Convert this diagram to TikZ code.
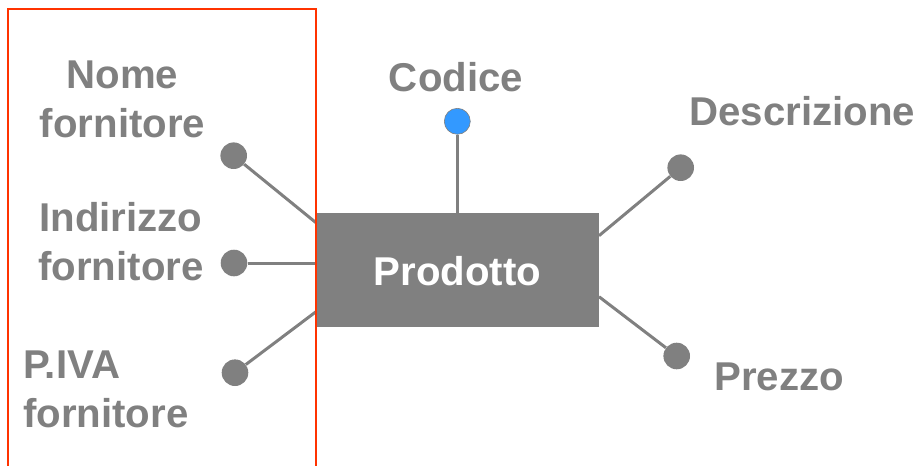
\documentclass[tikz,border=0pt]{standalone}
\usepackage{fontspec}
\setmainfont{Liberation Sans}
\definecolor{grayc}{HTML}{808080}
\definecolor{bluec}{HTML}{3399FF}
\definecolor{redc}{HTML}{FF3300}
\begin{document}
\begin{tikzpicture}[x=1pt,y=-1pt,
  lbl/.style={text=grayc,font=\fontsize{40.2}{49}\selectfont\bfseries,inner sep=0pt,anchor=base},
  attr/.style={circle,fill=grayc,minimum size=26.6pt,inner sep=0pt},
  keyattr/.style={circle,fill=bluec,draw=grayc,line width=0.6pt,minimum size=26pt,inner sep=0pt},
  conn/.style={draw=grayc,line width=3pt},
  entity/.style={fill=grayc,minimum width=283pt,minimum height=114.5pt,inner sep=0pt,text=white,font=\fontsize{40.2}{49}\selectfont\bfseries}]
\useasboundingbox (0,0) rectangle (922,466);
% entity
\node[entity] (prod) at (457.5,269.9) {};
\node[lbl,text=white] (prodtxt) at (457.5,285.5) {Prodotto};
% attributes
\node[keyattr] (cod) at (457.3,121.3) {};
\node[attr] (desc) at (680.7,167.7) {};
\node[attr] (prez) at (676.7,356) {};
\node[attr] (nome) at (233.7,155.7) {};
\node[attr] (ind) at (234,263) {};
\node[attr] (piva) at (235,372.7) {};
% connector end points on entity border
\coordinate (pCod) at (457.3,212.7);
\coordinate (pDesc) at (599,235.7);
\coordinate (pPrez) at (599,296.7);
\coordinate (pNome) at (316,222.7);
\coordinate (pInd) at (316,263);
\coordinate (pPiva) at (316,311.7);
\draw[conn] (cod) -- (pCod);
\draw[conn] (desc) -- (pDesc);
\draw[conn] (prez) -- (pPrez);
\draw[conn] (nome) -- (pNome);
\draw[conn] (ind) -- (pInd);
\draw[conn] (piva) -- (pPiva);
% labels
\node[lbl] (tcod) at (456,91.7) {Codice};
\node[lbl] (tdesc) at (802.3,125) {Descrizione};
\node[lbl] (tprez) at (779,390) {Prezzo};
\node[lbl,align=center] (tnome) at (122.5,137) {Nome\\fornitore};
\node[lbl,align=center] (tind) at (121,280) {Indirizzo\\fornitore};
\node[lbl,align=left,anchor=base west] (tpiva) at (23,427) {P.IVA\\fornitore};
% red frame
\coordinate (fbl) at (8,470);
\coordinate (ftl) at (8,9);
\coordinate (ftr) at (316,9);
\coordinate (fbr) at (316,470);
\draw[redc,line width=2pt] (fbl) -- (ftl) -- (ftr) -- (fbr);
\end{tikzpicture}
\end{document}
